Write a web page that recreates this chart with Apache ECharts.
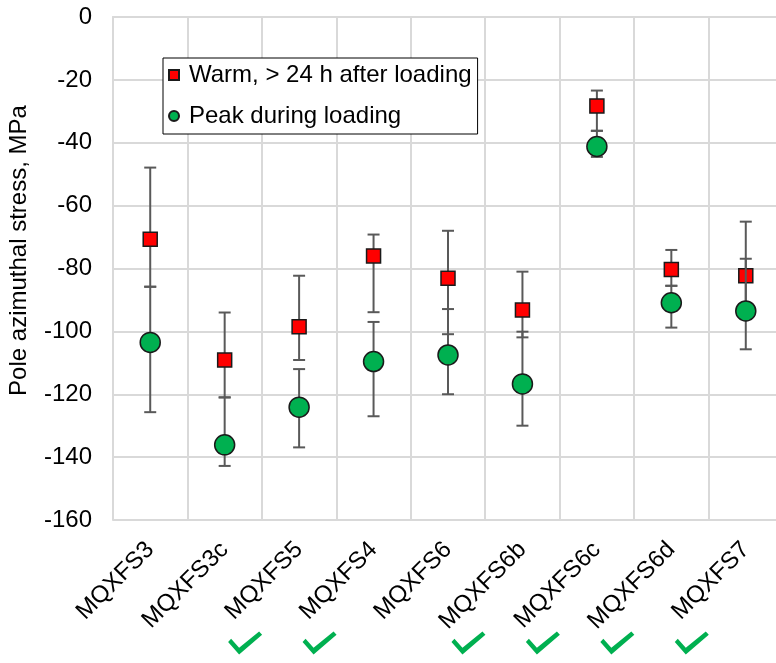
<!DOCTYPE html>
<html>
<head>
<meta charset="utf-8">
<script src="https://cdn.jsdelivr.net/npm/echarts@6/dist/echarts.min.js"></script>
<style>
  html, body { margin: 0; padding: 0; background: #fff; }
  #chart { width: 776px; height: 663px; }
</style>
</head>
<body>
<div id="chart"></div>
<script>
// Magnet names along the x axis
const categories = ['MQXFS3', 'MQXFS3c', 'MQXFS5', 'MQXFS4', 'MQXFS6', 'MQXFS6b', 'MQXFS6c', 'MQXFS6d', 'MQXFS7'];

// Warm measurement, > 24 h after loading (MPa), with its spread
const warmValues = [-70.7, -109.1, -98.5, -76.0, -83.1, -93.2, -28.3, -80.3, -82.3];
const warmHigh   = [-47.9, -94.0, -82.3, -69.2, -68.0, -81.0, -23.4, -74.1, -65.1];
const warmLow    = [-85.8, -121.0, -109.1, -93.9, -100.9, -101.9, -36.2, -85.5, -93.0];

// Peak stress during loading (MPa), with its spread
const peakValues = [-103.5, -136.1, -124.1, -109.6, -107.5, -116.7, -41.2, -90.9, -93.5];
const peakHigh   = [-85.8, -121.0, -112.0, -97.0, -92.9, -100.1, -36.2, -85.5, -76.9];
const peakLow    = [-125.7, -142.8, -136.9, -127.0, -120.0, -130.0, -44.5, -98.8, -105.7];

// Magnets marked with a check below their label
const verified = [false, false, true, true, false, true, true, true, true];

// Y axis range and tick step
const yMin = -160, yMax = 0, yStep = 20;

const FONT = 'Arial, "Liberation Sans", sans-serif';
const FONT_SIZE = 24;
const CHECK_PATH = 'path://M0,10 L3,7 L11,15.5 L31,0 L34,3 L11,22 Z';

function errorBars(high, low) {
  return categories.map((c, i) => [i, high[i], low[i]]);
}

function renderErrorBar(params, api) {
  const idx = api.value(0);
  const top = api.coord([idx, api.value(1)]);
  const bot = api.coord([idx, api.value(2)]);
  const half = 6;
  const style = { stroke: '#595959', lineWidth: 2 };
  return {
    type: 'group',
    children: [
      { type: 'line', shape: { x1: top[0], y1: top[1], x2: bot[0], y2: bot[1] }, style },
      { type: 'line', shape: { x1: top[0] - half, y1: top[1], x2: top[0] + half, y2: top[1] }, style },
      { type: 'line', shape: { x1: bot[0] - half, y1: bot[1], x2: bot[0] + half, y2: bot[1] }, style }
    ]
  };
}

const chart = echarts.init(document.getElementById('chart'), null, { renderer: 'canvas' });

chart.setOption({
  animation: false,
  backgroundColor: '#fff',
  textStyle: { fontFamily: FONT },
  grid: [
    { left: 113, top: 17, width: 670, height: 503, outerBoundsMode: 'none', containLabel: false },
    { left: 113, top: 630, width: 670, height: 26, outerBoundsMode: 'none', containLabel: false }
  ],
  legend: {
    left: 163,
    top: 58,
    orient: 'vertical',
    backgroundColor: '#fff',
    borderColor: '#000',
    borderWidth: 1,
    borderRadius: 0,
    padding: [5, 6, 6, 5],
    itemGap: 17,
    itemWidth: 10,
    itemHeight: 10,
    textStyle: {
      color: '#000', fontSize: FONT_SIZE, lineHeight: 24, fontFamily: FONT,
      rich: { t: { fontSize: FONT_SIZE, lineHeight: 24, fontFamily: FONT, color: '#000', padding: [0, 0, 0, 5] } }
    },
    formatter: name => '{t|' + name + '}',
    data: [
      { name: 'Warm, > 24 h after loading', icon: 'rect' },
      { name: 'Peak during loading', icon: 'circle' }
    ]
  },
  xAxis: [
    {
      type: 'category',
      data: categories,
      gridIndex: 0,
      boundaryGap: true,
      axisLine: { show: true, lineStyle: { color: '#d9d9d9', width: 2 } },
      axisTick: { show: false },
      splitLine: { show: true, lineStyle: { color: '#d9d9d9', width: 2 } },
      axisLabel: {
        rotate: 45,
        margin: 26,
        interval: 0,
        color: '#000',
        fontSize: FONT_SIZE,
        fontFamily: FONT
      }
    },
    {
      type: 'category',
      data: categories,
      gridIndex: 1,
      show: false
    }
  ],
  yAxis: [
    {
      type: 'value',
      gridIndex: 0,
      min: yMin,
      max: yMax,
      interval: yStep,
      name: 'Pole azimuthal stress, MPa',
      nameLocation: 'middle',
      nameGap: 82,
      nameTextStyle: { color: '#000', fontSize: FONT_SIZE, fontFamily: FONT, padding: [0, 0, 0, 36] },
      axisLine: { show: true, lineStyle: { color: '#d9d9d9', width: 2 } },
      axisTick: { show: false },
      splitLine: { show: true, lineStyle: { color: '#d9d9d9', width: 2 } },
      axisLabel: { margin: 21, color: '#000', fontSize: FONT_SIZE, fontFamily: FONT }
    },
    { type: 'value', gridIndex: 1, min: 0, max: 1, show: false }
  ],
  series: [
    {
      type: 'custom',
      name: 'warmSpread',
      xAxisIndex: 0, yAxisIndex: 0,
      renderItem: renderErrorBar,
      encode: { x: 0, y: [1, 2] },
      data: errorBars(warmHigh, warmLow),
      z: 2
    },
    {
      type: 'scatter',
      name: 'Warm, > 24 h after loading',
      symbol: 'rect',
      symbolSize: 14,
      itemStyle: { color: '#ff0000', borderColor: '#1a1a1a', borderWidth: 1.5, opacity: 1 },
      data: warmValues.map((v, i) => [i, v]),
      z: 3
    },
    {
      type: 'custom',
      name: 'peakSpread',
      xAxisIndex: 0, yAxisIndex: 0,
      renderItem: renderErrorBar,
      encode: { x: 0, y: [1, 2] },
      data: errorBars(peakHigh, peakLow),
      z: 4
    },
    {
      type: 'scatter',
      name: 'Peak during loading',
      symbol: 'circle',
      symbolSize: 20,
      itemStyle: { color: '#00b050', borderColor: '#1a1a1a', borderWidth: 1.5, opacity: 1 },
      data: peakValues.map((v, i) => [i, v]),
      z: 5
    },
    {
      type: 'scatter',
      name: 'checks',
      xAxisIndex: 1, yAxisIndex: 1,
      symbol: CHECK_PATH,
      symbolSize: [34, 23],
      symbolOffset: [-54, 0],
      itemStyle: { color: '#00b050', opacity: 1 },
      silent: true,
      data: categories.map((c, i) => verified[i] ? [i, 0.5] : null).filter(d => d)
    }
  ]
});
</script>
</body>
</html>
